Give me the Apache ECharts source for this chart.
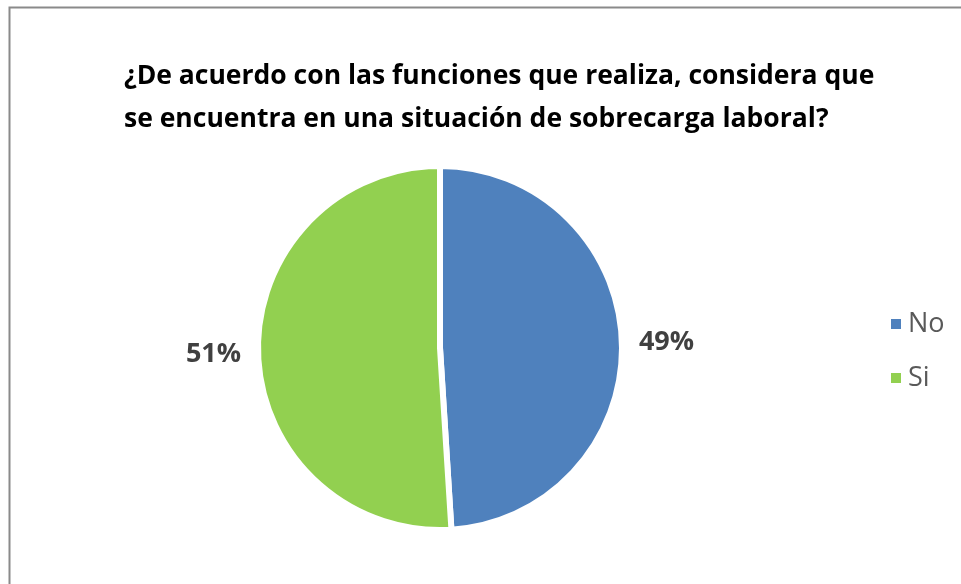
<!DOCTYPE html>
<html>
<head>
<meta charset="utf-8">
<script src="https://cdn.jsdelivr.net/npm/echarts@6/dist/echarts.min.js"></script>
<style>
    html, body { margin: 0; padding: 0; background: #fff; }
    #chart { width: 961px; height: 584px; }
</style>
</head>
<body>
<div id="chart"></div>
<script>
// datos
const categories = ['No', 'Si'];
const values = [49, 51];
const colors = ['#4F81BD', '#92D050'];
const titleText = '¿De acuerdo con las funciones que realiza, considera que\nse encuentra en una situación de sobrecarga laboral?';

var pieChart = echarts.init(document.getElementById('chart'));

var pieData = categories.map(function (name, i) {
    return {
        name: name,
        value: values[i],
        itemStyle: { color: colors[i] }
    };
});

pieChart.setOption({
    animation: false,
    backgroundColor: '#fff',
    graphic: [
        {
            type: 'rect',
            shape: { x: 9.5, y: 7.5, width: 1000, height: 1000 },
            style: { fill: 'none', stroke: '#8a8a8a', lineWidth: 2 },
            silent: true
        }
    ],
    title: {
        text: titleText,
        left: 119,
        top: 50,
        textStyle: {
            fontFamily: 'Open Sans',
            fontWeight: 'bold',
            fontSize: 26.5,
            lineHeight: 43,
            color: '#000'
        }
    },
    legend: {
        orient: 'vertical',
        left: 884,
        top: 304,
        itemWidth: 12,
        itemHeight: 12,
        itemGap: 24,
        icon: 'rect',
        data: categories,
        textStyle: {
            fontFamily: 'Open Sans',
            fontSize: 27,
            lineHeight: 30,
            color: '#595959',
            padding: [0, 0, 0, 1]
        }
    },
    series: [
        {
            type: 'pie',
            center: [440, 348],
            radius: 182,
            startAngle: 90,
            clockwise: true,
            data: pieData,
            itemStyle: {
                borderColor: '#fff',
                borderWidth: 6
            },
            label: {
                show: true,
                position: 'outside',
                formatter: function (p) {
                    return Math.round(p.percent) + '%';
                },
                fontFamily: 'Open Sans',
                fontWeight: 'bold',
                fontSize: 27,
                color: '#404040'
            },
            labelLine: {
                show: false,
                length: 12,
                length2: 0
            }
        }
    ]
});
</script>
</body>
</html>
